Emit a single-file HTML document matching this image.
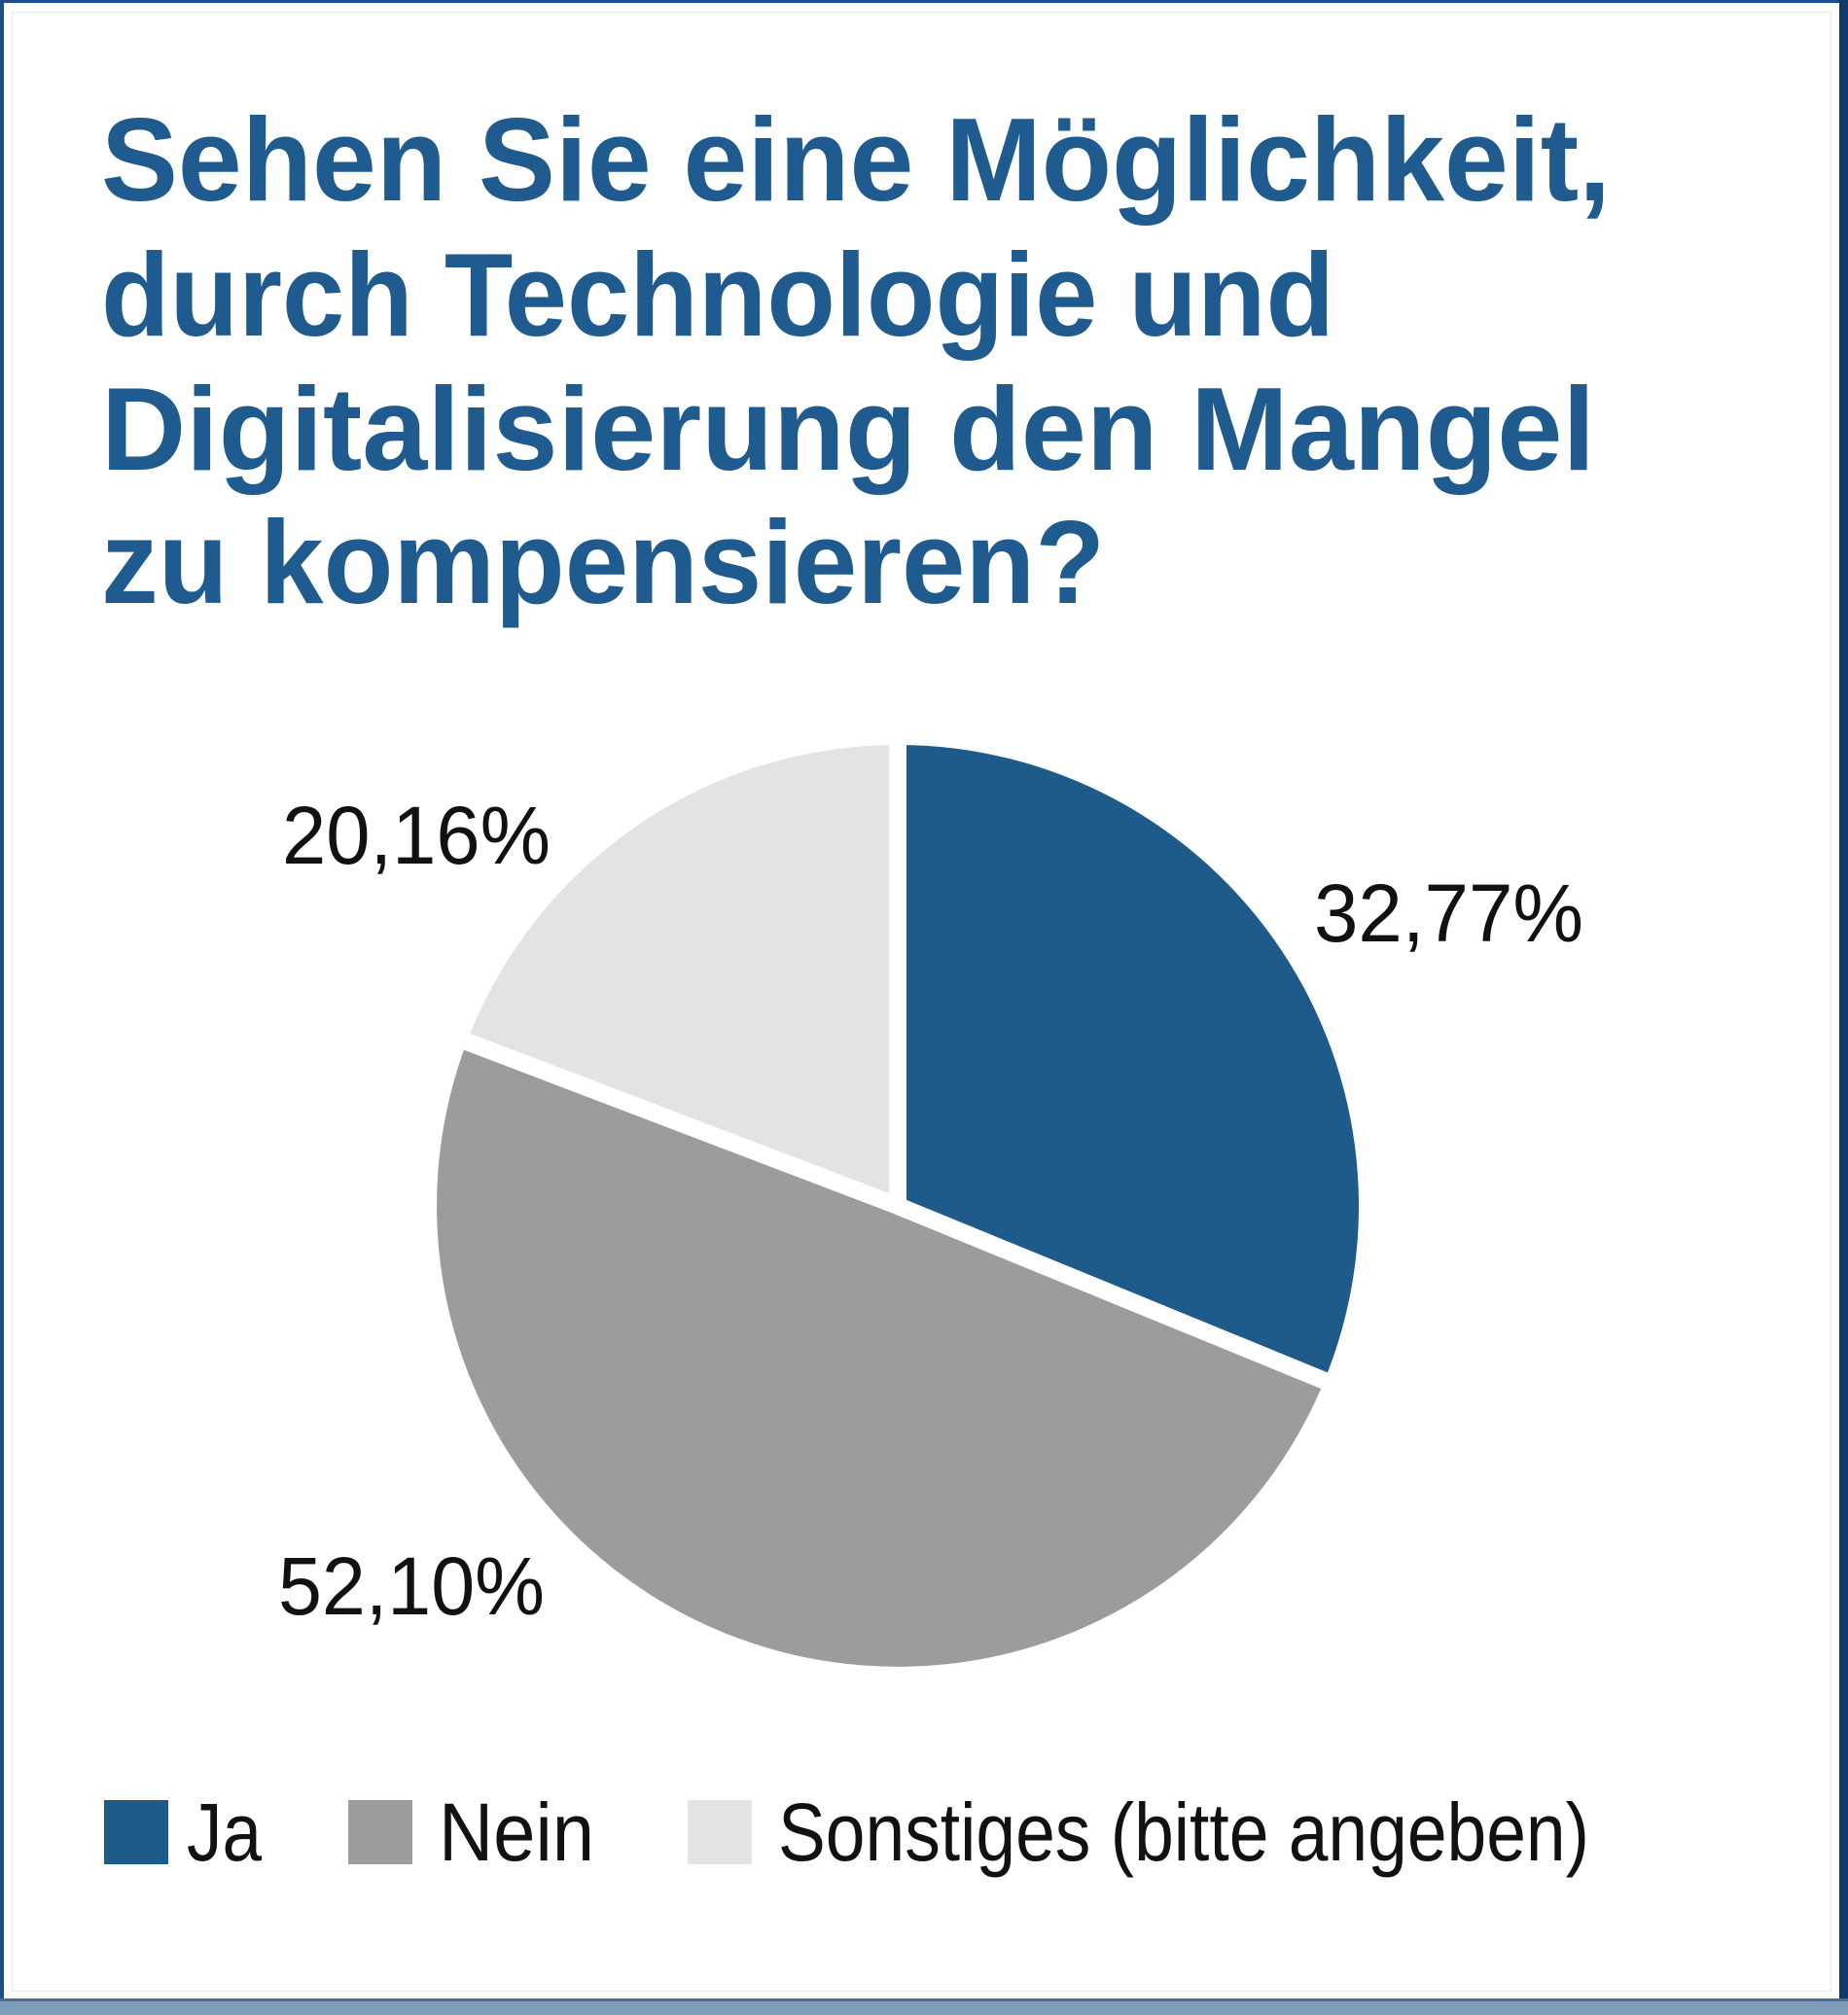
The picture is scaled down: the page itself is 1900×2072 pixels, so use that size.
<!DOCTYPE html>
<html>
<head>
<meta charset="utf-8">
<style>
  html, body { margin: 0; padding: 0; background: #ffffff; }
  body { width: 1900px; height: 2072px; overflow: hidden; }
  svg { display: block; }
</style>
</head>
<body>
<svg width="1900" height="2072" viewBox="0 0 1900 2072" xmlns="http://www.w3.org/2000/svg">
  <!-- background -->
  <rect x="0" y="0" width="1900" height="2072" fill="#ffffff"/>
  <!-- faint inner frame -->
  <rect x="12.5" y="12.5" width="1870" height="2035" fill="none" stroke="#f0ede8" stroke-width="1.5"/>
  <!-- outer borders -->
  <rect x="0" y="0" width="1900" height="3" fill="#1b4f85"/>
  <rect x="0" y="0" width="4" height="2072" fill="#1b4f85"/>
  <rect x="1891" y="0" width="9" height="2060" fill="#0f3a6a"/>
  <rect x="0" y="2055" width="1900" height="3" fill="#4a6f94"/>
  <rect x="0" y="2058" width="1900" height="14" fill="#7f9cba"/>

  <!-- Title -->
  <g font-family="'Liberation Sans', Arial, sans-serif" font-weight="bold" font-size="122" fill="#1f5b8f">
    <text x="104" y="206" textLength="1552" lengthAdjust="spacingAndGlyphs">Sehen Sie eine Möglichkeit,</text>
    <text x="104" y="345" textLength="1268" lengthAdjust="spacingAndGlyphs">durch Technologie und</text>
    <text x="104" y="483" textLength="1536" lengthAdjust="spacingAndGlyphs">Digitalisierung den Mangel</text>
    <text x="104" y="620" textLength="1032" lengthAdjust="spacingAndGlyphs">zu kompensieren?</text>
  </g>

  <!-- Pie: center (923,1240), r 474 -->
  <!-- Ja 0 -> 112.32 deg -->
  <path d="M923,1240 L923,766 A474,474 0 0 1 1361.5,1420 Z" fill="#1e5b8b"/>
  <!-- Nein 112.32 -> 290.90 deg -->
  <path d="M923,1240 L1361.5,1420 A474,474 0 0 1 480.2,1070.9 Z" fill="#9c9c9c"/>
  <!-- Sonstiges 290.90 -> 360 deg -->
  <path d="M923,1240 L480.2,1070.9 A474,474 0 0 1 923,766 Z" fill="#e3e3e3"/>
  <!-- white separators -->
  <g stroke="#ffffff" stroke-width="18" stroke-linecap="butt">
    <line x1="923" y1="1240" x2="923" y2="750"/>
    <line x1="923" y1="1240" x2="1378" y2="1426.4"/>
    <line x1="923" y1="1240" x2="463" y2="1064.6"/>
  </g>

  <!-- Percent labels -->
  <g font-family="'Liberation Sans', Arial, sans-serif" font-size="84" fill="#111111">
    <text x="290" y="888" textLength="276" lengthAdjust="spacingAndGlyphs">20,16%</text>
    <text x="1351" y="968" textLength="277" lengthAdjust="spacingAndGlyphs">32,77%</text>
    <text x="286" y="1660" textLength="274" lengthAdjust="spacingAndGlyphs">52,10%</text>
  </g>

  <!-- Legend -->
  <rect x="107" y="1851" width="66" height="66" fill="#1e5b8b"/>
  <rect x="358" y="1851" width="66" height="66" fill="#9c9c9c"/>
  <rect x="707" y="1851" width="66" height="66" fill="#e3e3e3"/>
  <g font-family="'Liberation Sans', Arial, sans-serif" font-size="84" fill="#111111">
    <text x="192" y="1913" textLength="77" lengthAdjust="spacingAndGlyphs">Ja</text>
    <text x="451" y="1913" textLength="160" lengthAdjust="spacingAndGlyphs">Nein</text>
    <text x="800" y="1913" textLength="834" lengthAdjust="spacingAndGlyphs">Sonstiges (bitte angeben)</text>
  </g>
</svg>
</body>
</html>
